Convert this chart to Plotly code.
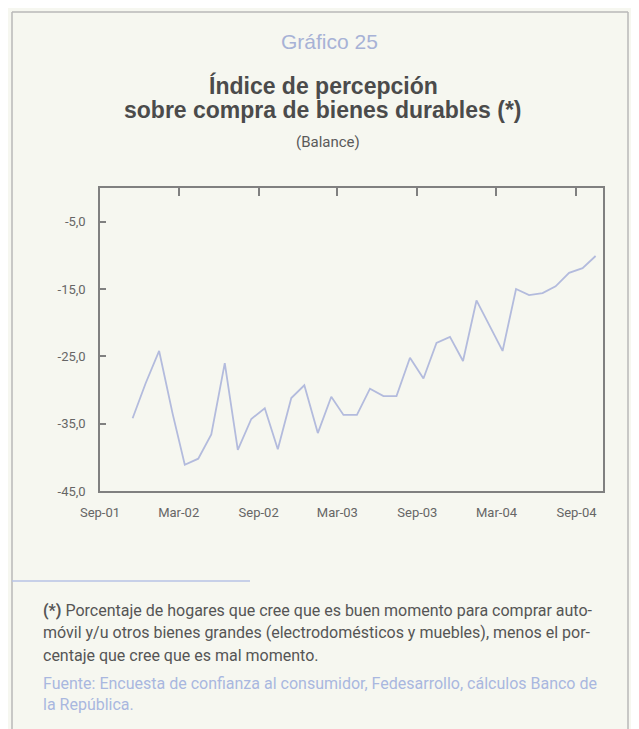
import plotly.graph_objects as go
import pandas as pd

# ---- data ----
months = list(pd.date_range("2001-11-01", periods=36, freq="MS") + pd.Timedelta(days=14))
values = [-34.2, -29.0, -24.2, -33.5, -41.1, -40.2, -36.6, -26.0, -38.9, -34.3,
          -32.7, -38.8, -31.2, -29.3, -36.4, -31.0, -33.7, -33.7, -29.8, -30.9,
          -30.9, -25.2, -28.3, -23.0, -22.1, -25.7, -16.7, -20.6, -24.2, -15.0,
          -15.9, -15.6, -14.6, -12.6, -11.9, -10.1]
x_tick_vals = ["2001-09-01", "2002-03-01", "2002-09-01", "2003-03-01",
               "2003-09-01", "2004-03-01", "2004-09-01"]
x_tick_text = ["Sep-01", "Mar-02", "Sep-02", "Mar-03", "Sep-03", "Mar-04", "Sep-04"]
y_tick_vals = [-5, -15, -25, -35, -45]
y_tick_text = ["-5,0", "-15,0", "-25,0", "-35,0", "-45,0"]
x_range = ["2001-09-01", "2004-11-01"]

OFF = 8  # page body margin
W, H = 639 - OFF, 729 - OFF
# plot frame in page pixel coordinates
PL, PR, PT, PB = 100, 603, 188, 491
L, R, T, B = PL - OFF, PR - OFF, PT - OFF, PB - OFF
pw, ph = R - L, B - T

def px(x):  # page x -> paper
    return (x - PL) / pw

def py(y):  # page y -> paper
    return (PB - y) / ph

BG = "#f6f7f0"
NARROW = "Roboto, Liberation Sans Narrow, sans-serif"
SANS = "Liberation Sans, Arial, Helvetica, sans-serif"
AX = "#808080"

fig = go.Figure()
# top axis (ticks only) carries an invisible copy of the series
fig.add_trace(go.Scatter(x=months, y=values, mode="lines", xaxis="x2", yaxis="y",
                         line=dict(color="rgba(0,0,0,0)", width=1),
                         hoverinfo="skip", showlegend=False))
fig.add_trace(go.Scatter(x=months, y=values, mode="lines",
                         line=dict(color="#b3bbdd", width=1.8),
                         hoverinfo="x+y", showlegend=False))

fig.update_layout(
    width=W, height=H,
    margin=dict(l=L, r=W - R, t=T, b=H - B, pad=0),
    paper_bgcolor=BG, plot_bgcolor=BG,
    xaxis=dict(type="date", range=x_range,
               tickmode="array", tickvals=x_tick_vals, ticktext=x_tick_text, ticks="",
               showgrid=False, zeroline=False, showline=True, mirror=True,
               linecolor=AX, linewidth=1.5,
               tickfont=dict(family=NARROW, size=13, color="#666666"),
               ticklabelstandoff=9),
    xaxis2=dict(type="date", overlaying="x", side="top", anchor="y",
                range=x_range, tickmode="array",
                tickvals=x_tick_vals, ticktext=x_tick_text, showticklabels=False,
                ticks="inside", ticklen=8, tickcolor=AX, tickwidth=1.6,
                showgrid=False, zeroline=False, showline=True,
                linecolor=AX, linewidth=1.5),
    yaxis=dict(range=[-45, 0], tickvals=y_tick_vals, ticktext=y_tick_text,
               ticks="inside", ticklen=6, tickcolor=AX, tickwidth=1.6,
               showgrid=False, zeroline=False, showline=True, mirror=True,
               linecolor=AX, linewidth=1.5,
               tickfont=dict(family=NARROW, size=13, color="#666666"),
               ticklabelstandoff=10),
)

ann = []
def text(x, y, s, size, color, family, xanchor="center"):
    ann.append(dict(xref="paper", yref="paper", x=px(x), y=py(y), text=s,
                    showarrow=False, xanchor=xanchor, yanchor="middle",
                    borderpad=0,
                    font=dict(size=size, color=color, family=family)))

text(329, 42, "Gráfico 25", 21, "#a7b2d6", SANS)
text(323, 85, "<b>Índice de percepción</b>", 23, "#4b4b4b", SANS)
text(323, 110, "<b>sobre compra de bienes durables (*)</b>", 23, "#4b4b4b", SANS)
text(328, 142, "(Balance)", 15, "#5a5a5a", NARROW)

FT = "#555555"
FS = 16
text(42, 610, "<b>(*)</b> Porcentaje de hogares que cree que es buen momento para comprar auto-", FS, FT, NARROW, "left")
text(42, 632, "móvil y/u otros bienes grandes (electrodomésticos y muebles), menos el por-", FS, FT, NARROW, "left")
text(42, 655, "centaje que cree que es mal momento.", FS, FT, NARROW, "left")
FB = "#a9b7df"
text(42, 683, "Fuente: Encuesta de confianza al consumidor, Fedesarrollo, cálculos Banco de", FS, FB, NARROW, "left")
text(42, 704, "la República.", FS, FB, NARROW, "left")
fig.update_layout(annotations=ann)

shapes = []
bc = "#b9b9b9"
for (x0, y0, x1, y1) in [(12, 12, 12, 740), (12, 12, 628, 12), (628, 12, 628, 740)]:
    shapes.append(dict(type="line", xref="paper", yref="paper",
                       x0=px(x0), y0=py(y0), x1=px(x1), y1=py(y1),
                       line=dict(color=bc, width=1.5)))
shapes.append(dict(type="line", xref="paper", yref="paper",
                   x0=px(12), y0=py(581), x1=px(250), y1=py(581),
                   line=dict(color="#b7c3e6", width=1.5)))
fig.update_layout(shapes=shapes)

fig.write_html("out.html")
